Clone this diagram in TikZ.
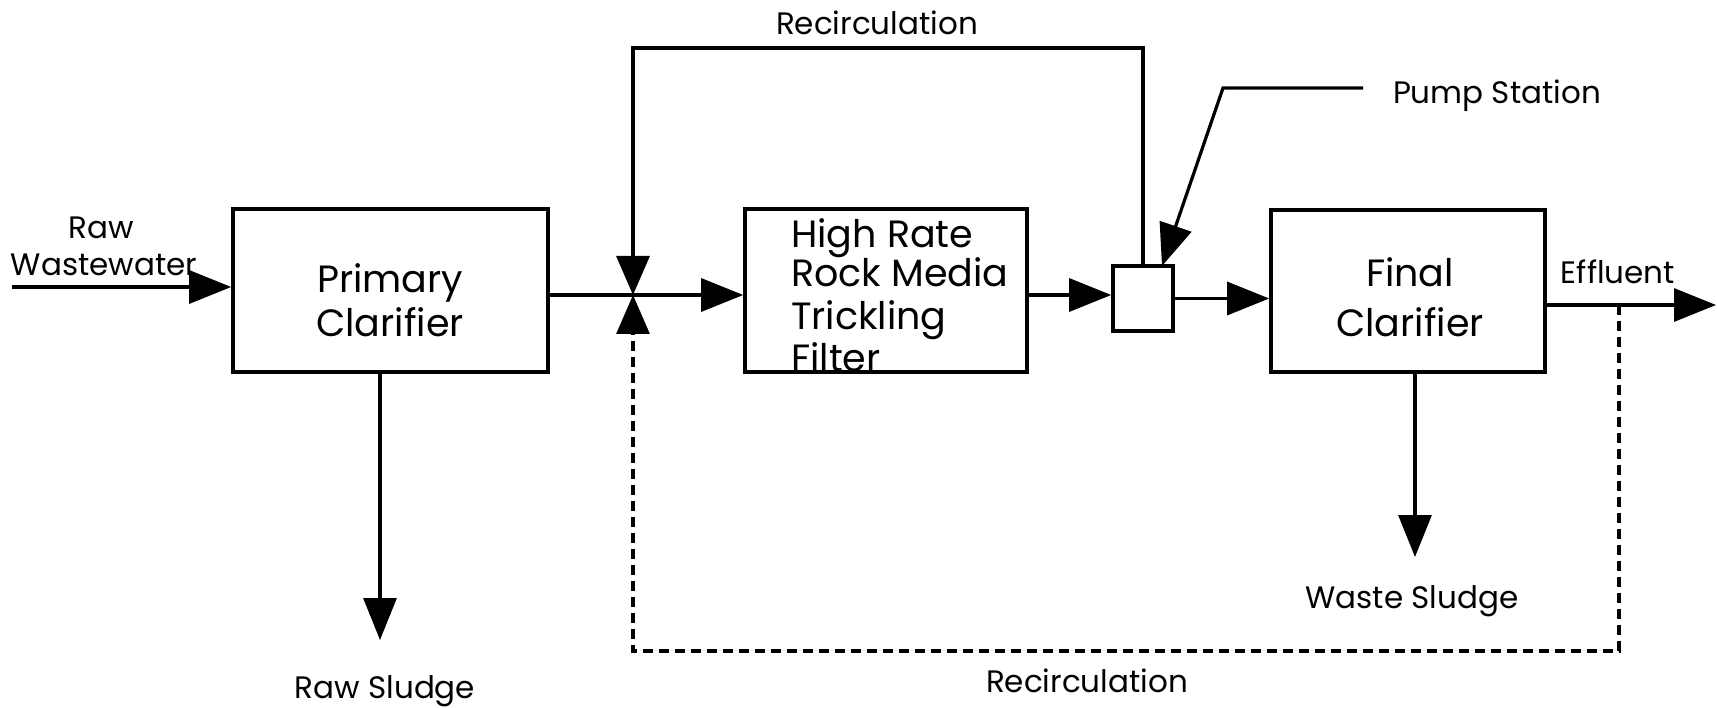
\documentclass[tikz,border=0pt]{standalone}
\usepackage{fontspec}
\setmainfont{Poppins}
\usetikzlibrary{arrows.meta}
\begin{document}
\begin{tikzpicture}[x=1pt,y=-1pt,
  procbox/.style={draw, line width=3.6pt, inner sep=0pt},
  pipe/.style={line width=3.2pt},
  flow/.style={pipe, -{Triangle[length=42pt,width=33pt]}},
  recyc/.style={pipe, dash pattern=on 10pt off 6pt, -{Triangle[length=39pt,width=33pt]}},
  bigtxt/.style={font=\fontsize{38}{44}\selectfont, inner sep=0pt, anchor=base},
  lbl/.style={font=\fontsize{31}{36}\selectfont, inner sep=0pt, anchor=base}]
\useasboundingbox (0,0) rectangle (1717,708);

% process boxes
\node[procbox, minimum width=315pt, minimum height=163pt] (primary) at (390.5,290.5) {};
\node[procbox, minimum width=282pt, minimum height=163pt] (filter) at (886,290.5) {};
\node[procbox, minimum width=60pt, minimum height=65pt] (pump) at (1143,298.5) {};
\node[procbox, minimum width=274pt, minimum height=162pt] (final) at (1408,291) {};

% helper points
\coordinate (rawin) at (12,287);
\coordinate (valve) at (633,295);
\coordinate (rtop) at (633,48);
\coordinate (psA) at (1363,88);
\coordinate (psB) at (1223,88);
\coordinate (pstip) at (1162,266);
\coordinate (effout) at (1716,305);
\coordinate (effdrop) at (1619,305);
\coordinate (dR) at (1619,651);
\coordinate (dL) at (633,651);
\coordinate (rawsl) at (380,640);
\coordinate (wastesl) at (1415,557);

% flows
\draw[flow] (rawin) -- (primary.west |- rawin);
\draw[pipe] (primary.east |- valve) -- (valve);
\draw[pipe, -{Triangle[length=39pt,width=33pt]}] (pump.north) |- (rtop) -- (valve);
\draw[flow] (valve) -- (filter.west |- valve);
\draw[flow] (filter.east |- valve) -- (pump.west |- valve);
\draw[flow] (pump.east) -- (final.west |- pump.east);
\draw[flow] (final.east |- effout) -- (effout);
\draw[flow] (primary.south -| rawsl) -- (rawsl);
\draw[flow] (final.south -| wastesl) -- (wastesl);
\draw[flow] (psA) -- (psB) -- (pstip);
\draw[recyc] (effdrop) -- (dR) -- (dL) -- (valve);

% texts
\node[lbl] (rawlbl1) at (101,239) {Raw};
\node[lbl] (rawlbl2) at (104,276) {Wastewater};
\node[bigtxt] (primt1) at (390,293) {Primary};
\node[bigtxt] (primt2) at (390,337) {Clarifier};
\node[bigtxt, anchor=base west] (filt1) at (791,248) {High Rate};
\node[bigtxt, anchor=base west] (filt2) at (791,287) {Rock Media};
\node[bigtxt, anchor=base west] (filt3) at (791,330) {Trickling};
\node[bigtxt, anchor=base west] (filt4) at (791,372) {Filter};
\node[bigtxt] (fint1) at (1410,287) {Final};
\node[bigtxt] (fint2) at (1410,337) {Clarifier};
\node[lbl] (efflbl) at (1618,284) {Effluent};
\node[lbl] (rectop) at (877,35) {Recirculation};
\node[lbl] (pslbl) at (1497,104) {Pump Station};
\node[lbl] (rslbl) at (385,698) {Raw Sludge};
\node[lbl] (wslbl) at (1412,608) {Waste Sludge};
\node[lbl] (recbot) at (1087,692) {Recirculation};
\end{tikzpicture}
\end{document}
